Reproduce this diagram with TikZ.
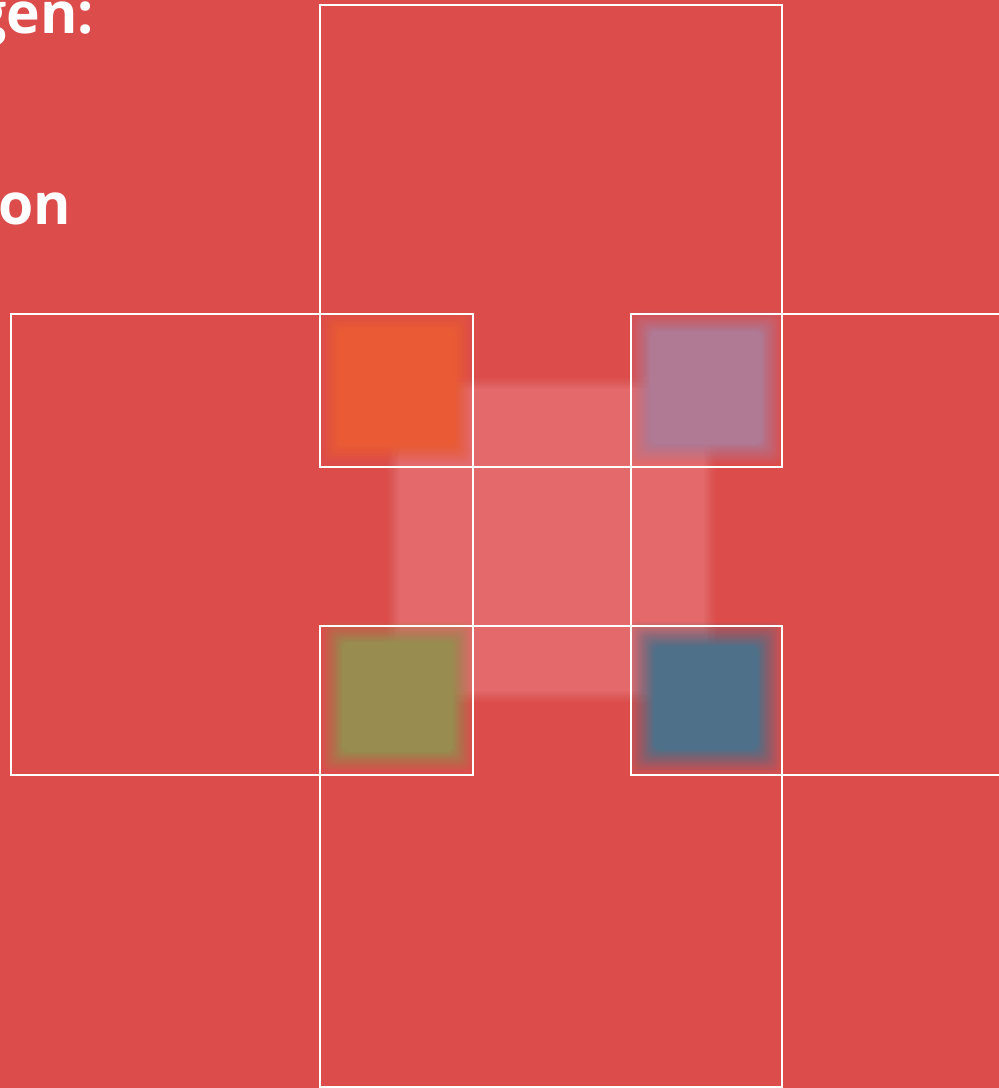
\documentclass[tikz,border=0pt]{standalone}
\usepackage{fontspec}
\setmainfont{Open Sans}
\definecolor{bg}{HTML}{DC4C4B}
\definecolor{centre}{HTML}{E4696A}
\definecolor{sqorange}{HTML}{EA5B35}
\definecolor{sqpurple}{HTML}{B07994}
\definecolor{sqolive}{HTML}{988C50}
\definecolor{sqblue}{HTML}{4F7089}
% colour, x1, y1, x2, y2, blur half-width
\newcommand\myblurbox[6]{%
  \foreach \i in {0,...,13}{%
    \pgfmathsetmacro\dd{-#6+\i*2*#6/13}%
    \pgfmathsetmacro\op{1/(14-\i)}%
    \fill[#1,fill opacity=\op,rounded corners=7pt] (#2+\dd,#3+\dd) rectangle (#4-\dd,#5-\dd);
  }%
}
\begin{document}
\begin{tikzpicture}[x=1pt,y=-1pt,
  frame/.style={draw=white,line width=2pt},
  lbl/.style={text=white,font=\bfseries\fontsize{57}{64}\selectfont,inner sep=0pt}]
\useasboundingbox (0,0) rectangle (999,1088);
\fill[bg] (0,0) rectangle (999,1088);
% central light square
\myblurbox{centre}{393}{383}{710}{697}{6}
% coloured blurred squares
\myblurbox{sqorange}{330}{321}{463}{454}{8}
\myblurbox{sqpurple}{640}{321}{772}{454}{10}
\myblurbox{sqolive}{332}{632}{463}{762}{10}
\myblurbox{sqblue}{642}{634}{770}{762}{12}
% white frames
\draw[frame] (320,5) rectangle (782,467);
\draw[frame] (320,626) rectangle (782,1087);
\draw[frame] (11,314) rectangle (473,775);
\draw[frame] (631,314) rectangle (1093,775);
% text
\node[lbl,anchor=base east] (t1) at (94,33) {gen:};
\node[lbl,anchor=base east] (t2) at (71,224) {on};
\end{tikzpicture}
\end{document}
